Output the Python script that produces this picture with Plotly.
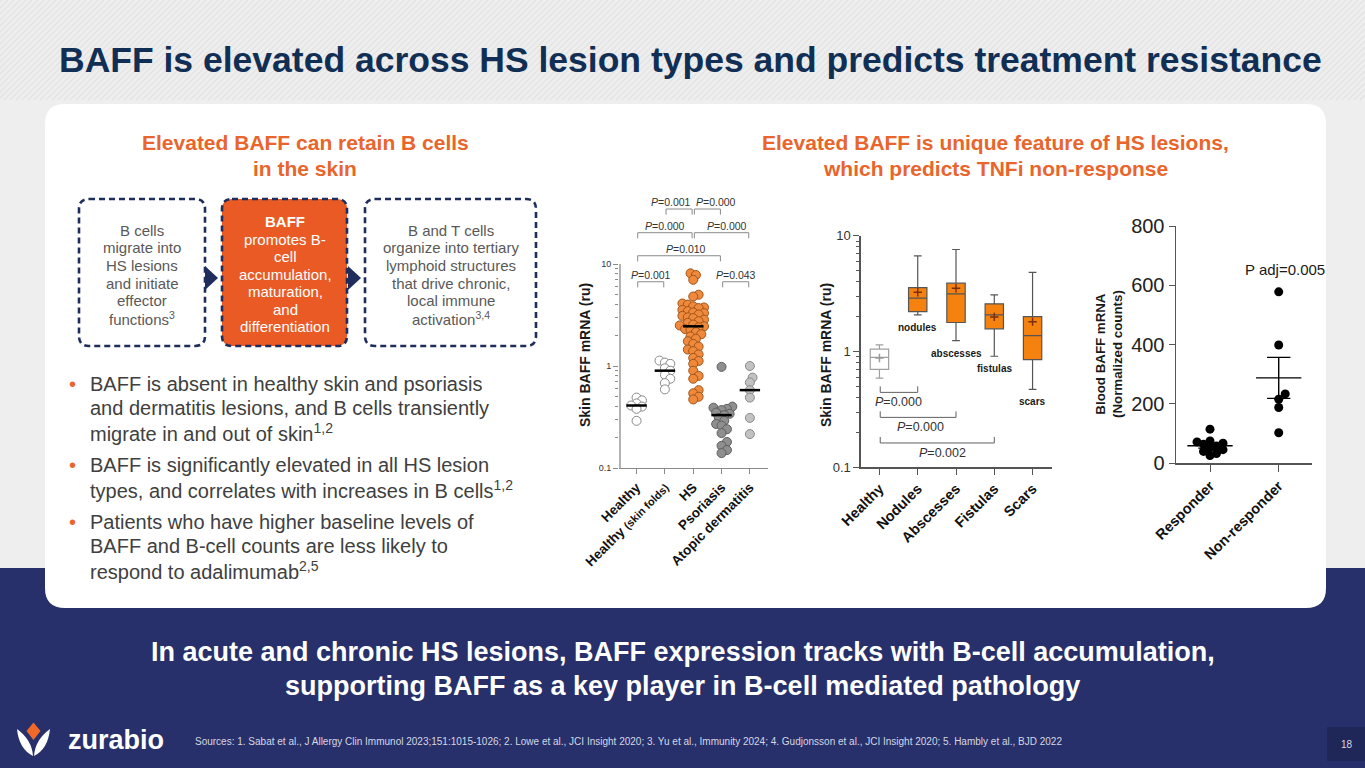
import numpy as np
import plotly.graph_objects as go

W, H = 1365, 768
FONT = "Liberation Sans, Arial, Helvetica, sans-serif"

# ---------------- data ----------------
title_text = "BAFF is elevated across HS lesion types and predicts treatment resistance"
left_heading = ["Elevated BAFF can retain B cells", "in the skin"]
right_heading = ["Elevated BAFF is unique feature of HS lesions,", "which predicts TNFi non-response"]
box1_lines = ["B cells", "migrate into", "HS lesions", "and initiate", "effector", "functions<sup>3</sup>"]
box2_lines = ["<b>BAFF</b>", "promotes B-", "cell", "accumulation,", "maturation,", "and", "differentiation"]
box3_lines = ["B and T cells", "organize into tertiary", "lymphoid structures", "that drive chronic,",
              "local immune", "activation<sup>3,4</sup>"]
bullets = [
    ["BAFF is absent in healthy skin and psoriasis",
     "and dermatitis lesions, and B cells transiently",
     "migrate in and out of skin<sup>1,2</sup>"],
    ["BAFF is significantly elevated in all HS lesion",
     "types, and correlates with increases in B cells<sup>1,2</sup>"],
    ["Patients who have higher baseline levels of",
     "BAFF and B-cell counts are less likely to",
     "respond to adalimumab<sup>2,5</sup>"],
]
bottom_lines = ["In acute and chronic HS lesions, BAFF expression tracks with B-cell accumulation,",
                "supporting BAFF as a key player in B-cell mediated pathology"]
sources_text = ("Sources: 1. Sabat et al., J Allergy Clin Immunol 2023;151:1015-1026; 2. Lowe et al., JCI Insight 2020; "
                "3. Yu et al., Immunity 2024; 4. Gudjonsson et al., JCI Insight 2020; 5. Hambly et al., BJD 2022")
page_number = "18"
logo_text = "zurabio"

# chart 1: skin BAFF mRNA by group (log scale)
c1_tick_labels = ["<b>Healthy</b>",
                  "<b>Healthy <span style='font-size:11px'>(skin folds)</span></b>",
                  "<b>HS</b>", "<b>Psoriasis</b>", "<b>Atopic dermatitis</b>"]
c1_healthy = [0.49, 0.46, 0.43, 0.41, 0.40, 0.38, 0.29]
c1_folds = [1.13, 1.08, 1.05, 0.95, 0.90, 0.82, 0.75, 0.68, 0.59]
c1_hs = [8.1, 7.8, 7.0, 5.0, 4.8, 4.1, 4.0, 3.85, 3.75, 3.7, 3.55, 3.45, 3.35, 3.3, 3.2, 3.1, 3.0,
         2.95, 2.85, 2.75, 2.65, 2.55, 2.5, 2.45, 2.4, 2.3, 2.25, 2.15, 2.05, 1.95, 1.85, 1.75, 1.65,
         1.55, 1.45, 1.4, 1.3, 1.2, 1.12, 1.05, 0.9, 0.8, 0.75, 0.58, 0.54, 0.5, 0.47]
c1_psoriasis = [0.98, 0.40, 0.39, 0.38, 0.37, 0.35, 0.34, 0.33, 0.31, 0.29, 0.27, 0.26, 0.24, 0.22,
                0.18, 0.165, 0.15, 0.14]
c1_atopic = [1.0, 0.77, 0.69, 0.58, 0.49, 0.31, 0.215]
c1_medians = [0.41, 0.90, 2.45, 0.33, 0.58]
c1_p_pairs = [(0, 1), (3, 4), (0, 3), (0, 2), (2, 4), (1, 2), (2, 3)]
c1_p_text = ["0.001", "0.043", "0.010", "0.000", "0.000", "0.001", "0.000"]

# chart 2: HS lesion types (box plots, log scale)
c2_tick_labels = ["<b>Healthy</b>", "<b>Nodules</b>", "<b>Abscesses</b>", "<b>Fistulas</b>", "<b>Scars</b>"]
c2_box_labels = ["", "nodules", "abscesses", "fistulas", "scars"]
c2_min = [0.59, 2.07, 1.24, 0.91, 0.47]
c2_q1 = [0.70, 2.21, 1.78, 1.57, 0.85]
c2_median = [0.89, 2.89, 3.14, 2.07, 1.37]
c2_q3 = [1.05, 3.56, 3.89, 2.58, 2.00]
c2_max = [1.14, 6.7, 7.6, 3.08, 4.83]
c2_mean = [0.88, 3.25, 3.52, 1.99, 1.81]
c2_p_pairs = [(0, 1), (0, 2), (0, 3)]
c2_p_text = ["0.000", "0.000", "0.002"]

# chart 3: blood BAFF mRNA by response
c3_tick_labels = ["<b>Responder</b>", "<b>Non-responder</b>"]
c3_responder = [115, 75, 72, 68, 64, 58, 52, 46, 40, 33, 26]
c3_nonresponder = [578, 399, 234, 216, 188, 103]
c3_mean = [59, 288]
c3_sem = [8, 69]
c3_p_text = "P adj=0.005"

# ---------------- style / layout constants ----------------
NAVY = "#27306a"
NAVY_DARK = "#1f2759"
TITLE_C = "#112f55"
ORANGE_T = "#e9652b"
ORANGE_BOX = "#e95a24"
DASH_C = "#1f2d5c"
GREY_T = "#595959"
BODY_T = "#404040"


def P(x, y):
    return f"{x / W:.5f},{1 - y / H:.5f}"


def rrect(x0, y0, x1, y1, r):
    return (f"M{P(x0 + r, y0)} L{P(x1 - r, y0)} Q{P(x1, y0)} {P(x1, y0 + r)} "
            f"L{P(x1, y1 - r)} Q{P(x1, y1)} {P(x1 - r, y1)} L{P(x0 + r, y1)} "
            f"Q{P(x0, y1)} {P(x0, y1 - r)} L{P(x0, y0 + r)} Q{P(x0, y0)} {P(x0 + r, y0)} Z")


def swarm_offsets(ypx, diam, step_frac=0.5):
    ypx = np.asarray(ypx, float)
    order = np.argsort(ypx)
    steps = [0.0]
    for j in range(1, 80):
        steps += [j * diam * step_frac, -j * diam * step_frac]
    placed, offs = [], np.zeros(len(ypx))
    for i in order:
        for c in steps:
            if all((c - ox) ** 2 + (ypx[i] - oy) ** 2 >= diam ** 2 for ox, oy in placed):
                offs[i] = c
                placed.append((c, ypx[i]))
                break
    return offs


fig = go.Figure()
shapes, ann = [], []

# background stripes, band, card
stripe = " ".join(f"M{P(x0, 100)} L{P(x0 + 100, 0)}" for x0 in range(-110, W + 10, 6))
shapes.append(dict(type="path", path=stripe, xref="paper", yref="paper", layer="below",
                   line=dict(color="#e3e3e3", width=1.3)))
shapes.append(dict(type="rect", xref="paper", yref="paper", x0=0, x1=1, y0=0, y1=1 - 568 / H,
                   fillcolor=NAVY, line_width=0, layer="below"))
shapes.append(dict(type="path", path=rrect(45, 104, 1326, 608, 20), xref="paper", yref="paper",
                   fillcolor="white", line_width=0, layer="below"))
shapes.append(dict(type="rect", xref="paper", yref="paper", x0=1327 / W, x1=1, y0=1 - 761 / H, y1=1 - 727 / H,
                   fillcolor=NAVY_DARK, line_width=0, layer="below"))

# flow boxes
for (x0, x1, fill) in [(79, 205, "white"), (222, 347, ORANGE_BOX), (365, 536, "white")]:
    shapes.append(dict(type="path", path=rrect(x0, 199, x1, 346, 10), xref="paper", yref="paper",
                       fillcolor=fill, line=dict(color=DASH_C, width=2.6, dash="6px,4px")))
for xa in [205, 348]:
    shapes.append(dict(type="path", path=f"M{P(xa, 266)} L{P(xa + 13, 278)} L{P(xa, 290)} Z",
                       xref="paper", yref="paper", fillcolor=DASH_C, line_width=0))

# logo icon
shapes.append(dict(type="path", path=f"M{P(33.5, 722.5)} L{P(40.5, 731)} L{P(33.5, 740)} L{P(26.5, 731)} Z",
                   xref="paper", yref="paper", fillcolor="#ef6a2a", line_width=0))
shapes.append(dict(type="path",
                   path=f"M{P(17, 729)} Q{P(19, 749)} {P(33, 756)} Q{P(32, 740)} {P(17, 729)} Z",
                   xref="paper", yref="paper", fillcolor="white", line_width=0))
shapes.append(dict(type="path",
                   path=f"M{P(50, 729)} Q{P(48, 749)} {P(34, 756)} Q{P(35, 740)} {P(50, 729)} Z",
                   xref="paper", yref="paper", fillcolor="white", line_width=0))


def text(x, y, s, size, color, bold=False, xanchor="center", yanchor="middle", **kw):
    if bold:
        s = f"<b>{s}</b>"
    d = dict(x=x / W, y=1 - y / H, xref="paper", yref="paper", text=s, showarrow=False,
             xanchor=xanchor, yanchor=yanchor, font=dict(family=FONT, size=size, color=color))
    d.update(kw)
    ann.append(d)


text(57, 60, title_text, 35.5, TITLE_C, bold=True, xanchor="left")
for k, s in enumerate(left_heading):
    text(305, 143 + 25 * k, s, 21, ORANGE_T, bold=True)
for k, s in enumerate(right_heading):
    text(995, 143 + 25 * k, s, 21, ORANGE_T, bold=True)
for k, s in enumerate(box1_lines):
    text(142, 230 + 17.7 * k, s, 15, GREY_T)
for k, s in enumerate(box2_lines):
    text(285, 221.7 + 17.5 * k, s, 15, "white")
for k, s in enumerate(box3_lines):
    text(451, 230 + 17.7 * k, s, 15, GREY_T)

yb = 384
for group in bullets:
    text(67, yb, "•", 20, ORANGE_T, xanchor="left")
    for k, s in enumerate(group):
        text(88, yb + 24 * k, s, 20, BODY_T, xanchor="left")
    yb += 24 * (len(group) - 1) + 33

for k, s in enumerate(bottom_lines):
    text(682.5, 652 + 34 * k, s, 27, "white", bold=True)
text(193, 741, sources_text, 10, "#d4d7e4", xanchor="left")
text(1347, 744, page_number, 10, "#d4d7e4")
text(66, 740, logo_text, 27, "white", bold=True, xanchor="left")

# ---------------- chart 1 ----------------
C1_XPX, C1_YPX = 28.33, 102.0
groups1 = [c1_healthy, c1_folds, c1_hs, c1_psoriasis, c1_atopic]
fills1 = ["white", "white", "#ef8a3c", "#8f8f8f", "#c2c2c2"]
lines1 = ["#8a8a8a", "#8a8a8a", "#a3541a", "#5f5f5f", "#8a8a8a"]
for i, vals in enumerate(groups1):
    offs = swarm_offsets(np.log10(vals) * C1_YPX, 5.4)
    fig.add_trace(go.Scatter(x=i + offs / C1_XPX, y=vals, mode="markers", xaxis="x", yaxis="y",
                             marker=dict(size=9, color=fills1[i], line=dict(color=lines1[i], width=1)),
                             cliponaxis=False, hoverinfo="skip"))
mx, my = [], []
for i, m in enumerate(c1_medians):
    mx += [i - 0.36, i + 0.36, None]
    my += [m, m, None]
fig.add_trace(go.Scatter(x=mx, y=my, mode="lines", line=dict(color="black", width=2.5),
                         xaxis="x", yaxis="y", hoverinfo="skip"))
# y-axis line (0.1 .. 10 only)
fig.add_trace(go.Scatter(x=[-0.585, -0.585], y=[0.1, 10], mode="lines", line=dict(color="#8a8a8a", width=1.3),
                         xaxis="x", yaxis="y", hoverinfo="skip"))
c1_levels = [0, 0, 1, 2, 2, 3, 3]
c1_level_log = [0.826, 1.081, 1.307, 1.539]
c1_xshift = [0, 0, 7, 0, 5, -8, 9]
bx, by = [], []
for (a, b), lv, t, xs in zip(c1_p_pairs, c1_levels, c1_p_text, c1_xshift):
    top = 10 ** c1_level_log[lv]
    low = 10 ** (c1_level_log[lv] - 0.055)
    xa, xb = a + 0.04, b - 0.04
    bx += [xa, xa, xb, xb, None]
    by += [low, top, top, low, None]
    ann.append(dict(x=(a + b) / 2, y=c1_level_log[lv], xref="x", yref="y", text=f"<i>P</i>={t}",
                    showarrow=False, xanchor="center", yanchor="bottom", xshift=xs, yshift=-1,
                    font=dict(family=FONT, size=10.5, color="#333333")))
fig.add_trace(go.Scatter(x=bx, y=by, mode="lines", line=dict(color="#8a8a8a", width=1),
                         xaxis="x", yaxis="y", hoverinfo="skip"))
text(585, 355, "Skin BAFF mRNA (ru)", 14, "#1a1a1a", bold=True, textangle=-90)

# ---------------- chart 2 ----------------
for i in range(5):
    healthy = i == 0
    fig.add_trace(go.Box(x=[i], q1=[c2_q1[i]], median=[c2_median[i]], q3=[c2_q3[i]],
                         lowerfence=[c2_min[i]], upperfence=[c2_max[i]],
                         width=0.48, whiskerwidth=0.42, boxpoints=False,
                         fillcolor="white" if healthy else "#f5820f",
                         line=dict(color="#a0a0a0" if healthy else "#555555", width=1.2),
                         xaxis="x2", yaxis="y2", hoverinfo="skip"))
fig.add_trace(go.Scatter(x=list(range(5)), y=c2_mean, mode="markers", xaxis="x2", yaxis="y2",
                         marker=dict(symbol="cross-thin", size=6,
                                     line=dict(width=1.5, color=["#999999"] + ["#7a2e0b"] * 4)),
                         hoverinfo="skip"))
for i, lab in enumerate(c2_box_labels):
    if lab:
        ann.append(dict(x=i, y=float(np.log10(c2_min[i])), xref="x2", yref="y2", text=f"<b>{lab}</b>",
                        showarrow=False, yanchor="top", yshift=-5,
                        font=dict(family=FONT, size=10, color="#1a1a1a")))
c2_level_log = [-0.353, -0.569, -0.79]
c2_xshift = [0, 3, 6]
bx, by = [], []
for (a, b), lv, t, xs in zip(c2_p_pairs, c2_level_log, c2_p_text, c2_xshift):
    low, top = 10 ** lv, 10 ** (lv + 0.052)
    bx += [a + 0.02, a + 0.02, b, b, None]
    by += [top, low, low, top, None]
    ann.append(dict(x=(a + b) / 2, y=lv, xref="x2", yref="y2", text=f"<i>P</i>={t}",
                    showarrow=False, yanchor="top", yshift=-1, xshift=xs,
                    font=dict(family=FONT, size=12.5, color="#333333")))
fig.add_trace(go.Scatter(x=bx, y=by, mode="lines", line=dict(color="#606060", width=1),
                         xaxis="x2", yaxis="y2", hoverinfo="skip"))
text(826, 355, "Skin BAFF mRNA (ru)", 14, "#1a1a1a", bold=True, textangle=-90)

# ---------------- chart 3 ----------------
C3_XPX, C3_YPX = 68.7, 237.3 / 800
for i, vals in enumerate([c3_responder, c3_nonresponder]):
    offs = swarm_offsets(np.array(vals) * C3_YPX, 6.5)
    fig.add_trace(go.Scatter(x=i + offs / C3_XPX, y=vals, mode="markers", xaxis="x3", yaxis="y3",
                             marker=dict(size=9, color="black"), cliponaxis=False, hoverinfo="skip"))
lx, ly = [], []
for i, (m, s) in enumerate(zip(c3_mean, c3_sem)):
    lx += [i - 0.33, i + 0.33, None, i, i, None, i - 0.17, i + 0.17, None, i - 0.17, i + 0.17, None]
    ly += [m, m, None, m - s, m + s, None, m + s, m + s, None, m - s, m - s, None]
fig.add_trace(go.Scatter(x=lx, y=ly, mode="lines", line=dict(color="black", width=1.4),
                         xaxis="x3", yaxis="y3", cliponaxis=False, hoverinfo="skip"))
ann.append(dict(x=1, y=654, xref="x3", yref="y3", text=c3_p_text, showarrow=False, xshift=6,
                font=dict(family=FONT, size=15, color="#1a1a1a")))
text(1109, 354, "Blood BAFF mRNA<br>(Normalized counts)", 13.3, "#1a1a1a", bold=True, textangle=-90)

# ---------------- axes ----------------
minor_log = [v * 10 ** e for e in (-1, 0) for v in range(2, 10)]
ax_common = dict(showgrid=False, zeroline=False, fixedrange=True, automargin=False)
fig.update_layout(
    width=W, height=H, margin=dict(l=0, r=0, t=0, b=0, pad=0, autoexpand=False),
    paper_bgcolor="#eeeeee", plot_bgcolor="rgba(0,0,0,0)", showlegend=False,
    font=dict(family=FONT), shapes=shapes, annotations=ann,
    xaxis=dict(domain=[619 / W, 768 / W], range=[-0.62, 4.64], anchor="y", showline=True,
               linecolor="#8a8a8a", linewidth=1.3, ticks="outside", ticklen=5, tickcolor="#8a8a8a",
               tickmode="array", tickvals=list(range(5)), ticktext=c1_tick_labels, tickangle=-45,
               tickfont=dict(size=13.5, color="#111111"), **ax_common),
    yaxis=dict(domain=[1 - 468 / H, 1 - 187.5 / H], type="log", range=[-1, 1.75], anchor="x",
               showline=False, ticks="outside", ticklen=5, tickcolor="#8a8a8a",
               tickmode="array", tickvals=[0.1, 1, 10], ticktext=["0.1", "1", "10"],
               tickfont=dict(size=9, color="#333333"),
               minor=dict(ticks="outside", ticklen=3, tickcolor="#8a8a8a", tickmode="array",
                          tickvals=minor_log, showgrid=False), **ax_common),
    xaxis2=dict(domain=[860.7 / W, 1051.7 / W], range=[-0.49, 4.5], anchor="y2", showline=True,
                linecolor="#555555", linewidth=1.3, ticks="outside", ticklen=6, tickcolor="#555555",
                tickmode="array", tickvals=list(range(5)), ticktext=c2_tick_labels, tickangle=-45,
                tickfont=dict(size=14.5, color="#111111"), **ax_common),
    yaxis2=dict(domain=[1 - 467.3 / H, 1 - 235.7 / H], type="log", range=[-1, 1], anchor="x2",
                showline=True, linecolor="#555555", linewidth=1.3, ticks="outside", ticklen=6,
                tickcolor="#555555", tickmode="array", tickvals=[0.1, 1, 10], ticktext=["0.1", "1", "10"],
                tickfont=dict(size=13, color="#333333"),
                minor=dict(ticks="outside", ticklen=3, tickcolor="#555555", tickmode="array",
                           tickvals=minor_log, showgrid=False), **ax_common),
    xaxis3=dict(domain=[1176 / W, 1311.7 / W], range=[-0.495, 1.48], anchor="y3", showline=True,
                linecolor="#555555", linewidth=1.5, ticks="outside", ticklen=7, tickcolor="#555555",
                tickmode="array", tickvals=[0, 1], ticktext=c3_tick_labels, tickangle=-45,
                tickfont=dict(size=14.5, color="#111111"), **ax_common),
    yaxis3=dict(domain=[1 - 463.3 / H, 1 - 226 / H], range=[0, 800], anchor="x3", showline=True,
                linecolor="#555555", linewidth=1.5, ticks="outside", ticklen=6, tickcolor="#555555",
                tickmode="array", tickvals=[0, 200, 400, 600, 800],
                tickfont=dict(size=20, color="#222222"), **ax_common),
)

fig.write_html("out.html", include_plotlyjs=True,
               config={"responsive": False, "displayModeBar": False, "staticPlot": True},
               post_script="document.body.style.margin='0';document.body.style.overflow='hidden';")
